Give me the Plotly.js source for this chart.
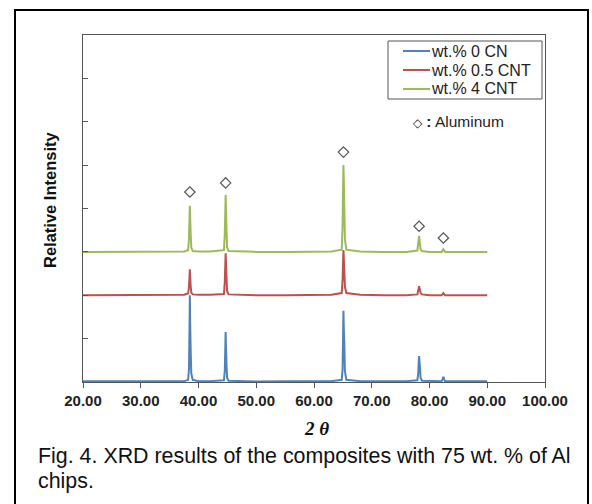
<!DOCTYPE html>
<html>
<head>
<meta charset="utf-8">
<script src="https://cdn.plot.ly/plotly-3.0.1.min.js"></script>
<style>
html,body{margin:0;padding:0;background:#fff;}
#chart{width:592px;height:504px;}
</style>
</head>
<body>
<div id="chart"></div>
<script>
// 2-theta sampling positions (degrees)
var twoTheta = [20, 25, 30, 35, 37.5, 38.2, 38.35, 38.45, 38.5, 38.55, 38.65, 38.75, 39.0, 40, 42,
  44.4, 44.55, 44.65, 44.7, 44.75, 44.85, 44.95, 45.2, 47, 50, 55, 60, 63,
  64.8, 64.95, 65.05, 65.1, 65.15, 65.25, 65.35, 65.6, 68, 72, 76,
  77.9, 78.05, 78.15, 78.2, 78.25, 78.35, 78.45, 78.7, 80,
  82.1, 82.25, 82.35, 82.4, 82.45, 82.55, 82.7, 85, 90];

// wt.% 0 CN (baseline 0)
var cn0 = [0.02, 0.02, 0.01, 0.02, 0.02, 0.05, 0.3, 1.3, 2.0, 1.4, 0.7, 0.2, 0.05, 0.02, 0.02,
  0.04, 0.25, 0.8, 1.15, 0.85, 0.4, 0.1, 0.03, 0.02, 0.01, 0.02, 0.02, 0.02,
  0.05, 0.3, 1.2, 1.64, 1.3, 0.9, 0.25, 0.05, 0.02, 0.02, 0.02,
  0.04, 0.2, 0.5, 0.6, 0.5, 0.35, 0.1, 0.03, 0.02,
  0.02, 0.06, 0.11, 0.12, 0.1, 0.06, 0.02, 0.02, 0.02];

// wt.% 0.5 CNT (offset baseline 2)
var cnt05 = [2.0, 2.0, 2.0, 2.0, 2.01, 2.04, 2.2, 2.45, 2.6, 2.45, 2.2, 2.06, 2.02, 2.01, 2.01,
  2.03, 2.3, 2.75, 2.97, 2.8, 2.4, 2.1, 2.02, 2.01, 2.0, 2.0, 2.0, 2.01,
  2.05, 2.35, 2.85, 3.04, 2.9, 2.55, 2.2, 2.05, 2.01, 2.0, 2.0,
  2.02, 2.1, 2.18, 2.21, 2.18, 2.12, 2.05, 2.02, 2.0,
  2.0, 2.02, 2.04, 2.05, 2.04, 2.02, 2.0, 2.0, 2.0];

// wt.% 4 CNT (offset baseline 3)
var cnt4 = [3.0, 3.0, 3.0, 3.0, 3.01, 3.04, 3.3, 3.8, 4.06, 3.85, 3.4, 3.1, 3.02, 3.01, 3.01,
  3.04, 3.4, 4.0, 4.31, 4.05, 3.5, 3.1, 3.02, 3.01, 3.0, 3.0, 3.0, 3.01,
  3.05, 3.6, 4.6, 5.0, 4.7, 4.0, 3.3, 3.05, 3.01, 3.0, 3.0,
  3.03, 3.2, 3.33, 3.37, 3.3, 3.18, 3.06, 3.02, 3.0,
  3.0, 3.03, 3.05, 3.06, 3.05, 3.03, 3.0, 3.0, 3.0];

// Aluminum peak markers
var alX = [38.5, 44.7, 65.1, 78.2, 82.4];
var alY = [4.38, 4.59, 5.30, 3.59, 3.32];

var seriesNames = ['wt.% 0 CN', 'wt.% 0.5 CNT', 'wt.% 4 CNT'];
var xTicks = [20, 30, 40, 50, 60, 70, 80, 90, 100];
var xTickText = ['20.00', '30.00', '40.00', '50.00', '60.00', '70.00', '80.00', '90.00', '100.00'];
var yTicks = [0, 1, 2, 3, 4, 5, 6, 7, 8];

var colors = ['#4F81BD', '#C0504D', '#9BBB59'];
var ys = [cn0, cnt05, cnt4];

var traces = ys.map(function (y, i) {
  return {
    type: 'scatter', mode: 'lines', x: twoTheta, y: y, name: seriesNames[i],
    line: {color: colors[i], width: 2}, hoverinfo: 'skip', showlegend: false
  };
});
traces.push({
  type: 'scatter', mode: 'markers', x: alX, y: alY, showlegend: false,
  marker: {symbol: 'diamond-open', size: 8, color: '#555', line: {width: 1.2, color: '#555'}},
  hoverinfo: 'skip'
});

var F = 'Liberation Sans, Arial, sans-serif';
// plot area: x 83..545 px, y 35..382 px
var PW = 462, PH = 347;
function px(x) { return (x - 83) / PW; }
function py(y) { return (382 - y) / PH; }

var annotations = [
  {text: '<b>Relative Intensity</b>', xref: 'paper', yref: 'paper', x: px(50), y: py(200),
   xanchor: 'center', yanchor: 'middle',
   textangle: -90, showarrow: false, font: {family: F, size: 16.5, color: '#111'}},
  {text: '<b><i>2 θ</i></b>', xref: 'paper', yref: 'paper', x: px(316), y: py(428),
   xanchor: 'center', yanchor: 'middle',
   showarrow: false, font: {family: 'Liberation Serif, Times New Roman, serif', size: 19, color: '#111'}},
  {text: '<span style="font-size:12px">◇</span> <b>:</b> Aluminum', xref: 'paper', yref: 'paper', x: px(458), y: py(121),
   xanchor: 'center', yanchor: 'middle',
   showarrow: false, font: {family: F, size: 15.5, color: '#222'}},
  {text: 'Fig. 4. XRD results of the composites with 75 wt. % of Al', xref: 'paper', yref: 'paper',
   x: px(36), y: py(456), xanchor: 'left', yanchor: 'middle', showarrow: false,
   font: {family: F, size: 21.4, color: '#111'}},
  {text: 'chips.', xref: 'paper', yref: 'paper',
   x: px(36), y: py(481), xanchor: 'left', yanchor: 'middle', showarrow: false,
   font: {family: F, size: 21.4, color: '#111'}}
];

var shapes = [
  {type: 'rect', xref: 'paper', yref: 'paper', x0: px(15), x1: px(588), y0: py(520), y1: py(10),
   line: {color: '#000', width: 2}, fillcolor: 'rgba(0,0,0,0)'},
  // legend box
  {type: 'rect', xref: 'paper', yref: 'paper', x0: px(388), x1: px(542), y0: py(99), y1: py(41),
   line: {color: '#555', width: 1}, fillcolor: '#fff'}
];
// legend entries
var legendRows = [51, 70, 89];
seriesNames.forEach(function (name, i) {
  shapes.push({type: 'line', xref: 'paper', yref: 'paper', x0: px(403), x1: px(430),
    y0: py(legendRows[i]), y1: py(legendRows[i]), line: {color: colors[i], width: 2}});
  annotations.push({text: name, xref: 'paper', yref: 'paper', x: px(429), y: py(legendRows[i]),
    xanchor: 'left', yanchor: 'middle', showarrow: false,
    font: {family: F, size: 16, color: '#222'}});
});

var layout = {
  width: 592, height: 504,
  margin: {l: 83, r: 47, t: 35, b: 122},
  paper_bgcolor: '#fff', plot_bgcolor: '#fff',
  showlegend: false,
  font: {family: F, color: '#222'},
  xaxis: {
    range: [20, 100], tickvals: xTicks, ticktext: xTickText,
    ticks: 'outside', ticklen: 5, tickcolor: '#555', tickwidth: 1,
    showgrid: false, zeroline: false, showline: true, linecolor: '#555', linewidth: 1, mirror: true,
    tickfont: {family: F, size: 15, weight: 'bold', color: '#222'}
  },
  yaxis: {
    range: [0, 8], tickvals: yTicks, showticklabels: false,
    ticks: 'inside', ticklen: 5, tickcolor: '#555', tickwidth: 1,
    showgrid: false, zeroline: false, showline: true, linecolor: '#555', linewidth: 1, mirror: true
  },
  annotations: annotations,
  shapes: shapes
};

Plotly.newPlot('chart', traces, layout, {staticPlot: true, displayModeBar: false});
</script>
</body>
</html>
